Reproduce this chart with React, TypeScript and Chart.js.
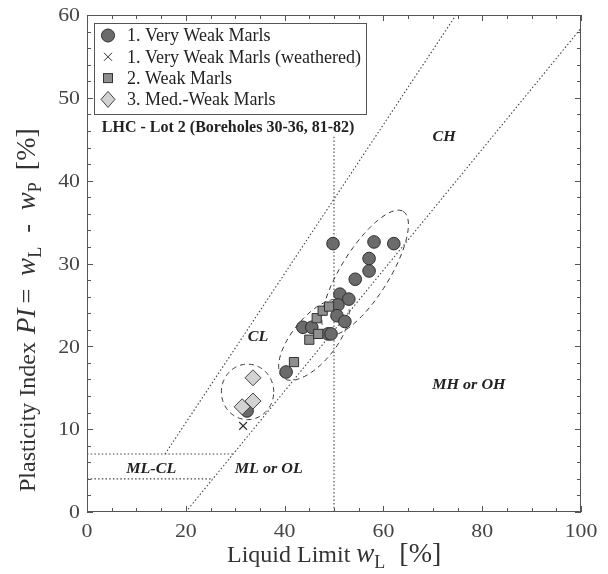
import React, { useEffect, useRef } from "react";
import { Chart, registerables } from "chart.js";
Chart.register(...registerables);

const SERIF = "'Liberation Serif', 'Times New Roman', serif";

// ---- data: liquid limit (x) and plasticity index (y) ----
const veryWeakLL = [49.8, 58.1, 62.1, 57.1, 57.1, 54.3, 51.2, 53.0, 50.8, 50.6, 52.2, 43.7, 45.5, 48.8, 49.4, 40.3, 32.4];
const veryWeakPI = [32.4, 32.6, 32.4, 30.6, 29.1, 28.1, 26.3, 25.7, 25.0, 23.7, 23.0, 22.3, 22.3, 21.5, 21.5, 16.9, 12.2];
const weatheredLL = [31.6];
const weatheredPI = [10.4];
const weakLL = [41.9, 45.0, 46.8, 46.5, 47.7, 49.0];
const weakPI = [18.1, 20.8, 21.5, 23.4, 24.3, 24.8];
const medWeakLL = [33.6, 33.6, 31.4];
const medWeakPI = [16.2, 13.4, 12.7];

const seriesLabels = [
  "1. Very Weak Marls",
  "1. Very Weak Marls (weathered)",
  "2. Weak Marls",
  "3. Med.-Weak Marls",
];

// ---- classification lines (end points, data units) ----
const aLineX = [20, 100];
const aLineY = [0, 58.4];
const uLineX = [15.8, 74.7];
const uLineY = [7, 60];
const pi7X = [0, 29.6];
const pi7Y = [7, 7];
const pi4X = [0, 25.5];
const pi4Y = [4, 4];
const ll50X = [50, 50];
const ll50Y = [0, 45.5];

// ---- zone labels ----
const zoneText = ["CH", "CL", "MH or OH", "ML-CL", "ML or OL"];
const zoneX = [72.3, 34.6, 77.3, 13.0, 36.8];
const zoneY = [45.2, 21.1, 15.3, 5.1, 5.1];

const panelTitle = "LHC - Lot 2 (Boreholes 30-36, 81-82)";
const panelTitleX = 3.0;
const panelTitleY = 46.4;

// ---- cluster ellipses: centre, semi-axis vector A, semi-axis vector B (data units) ----
const ellCX = [32.5, 45.95, 56.3];
const ellCY = [14.5, 20.8, 28.9];
const ellAX = [5.3, 6.25, 7.73];
const ellAY = [0, 4.61, 7.38];
const ellBX = [0, 3.48, 4.13];
const ellBY = [3.35, -1.68, -1.53];

const xMin = 0, xMax = 100, xStep = 20, xMinor = 5;
const yMin = 0, yMax = 60, yStep = 10, yMinor = 2;

const toPts = (xs: number[], ys: number[]) => xs.map((x, i) => ({ x, y: ys[i] }));

const lineDs = (xs: number[], ys: number[]) => ({
  type: "scatter" as const,
  data: toPts(xs, ys),
  showLine: true,
  borderColor: "#444",
  borderWidth: 1.1,
  borderDash: [1.5, 2.2],
  pointRadius: 0,
  fill: false,
});

const STRETCH = 1.18;

function stretchedText(ctx: CanvasRenderingContext2D, text: string, x: number, y: number, align: CanvasTextAlign, sx: number) {
  ctx.save();
  ctx.translate(x, y);
  ctx.scale(sx, 1);
  ctx.textAlign = align;
  ctx.fillText(text, 0, 0);
  ctx.restore();
}

type Seg = { t: string; size: number; it?: boolean; sub?: boolean; gap?: number };
// draws segments starting at x = 0 (left aligned)
function richText(ctx: CanvasRenderingContext2D, segs: Seg[]) {
  let x = 0;
  ctx.textAlign = "left";
  ctx.textBaseline = "alphabetic";
  for (const s of segs) {
    ctx.font = `${s.it ? "italic " : ""}${s.size}px ${SERIF}`;
    ctx.fillText(s.t, x, s.sub ? 6 : 0);
    x += ctx.measureText(s.t).width + (s.gap || 0);
  }
}

function drawMarker(ctx: CanvasRenderingContext2D, kind: string, x: number, y: number) {
  ctx.save();
  ctx.lineWidth = 1;
  if (kind === "circle") {
    ctx.fillStyle = "#6b6b6b";
    ctx.strokeStyle = "#2e2e2e";
    ctx.beginPath();
    ctx.arc(x, y, 6.5, 0, Math.PI * 2);
    ctx.fill();
    ctx.stroke();
  } else if (kind === "cross") {
    ctx.strokeStyle = "#333";
    ctx.beginPath();
    ctx.moveTo(x - 4, y - 4);
    ctx.lineTo(x + 4, y + 4);
    ctx.moveTo(x + 4, y - 4);
    ctx.lineTo(x - 4, y + 4);
    ctx.stroke();
  } else if (kind === "rect") {
    ctx.fillStyle = "#8e8e8e";
    ctx.strokeStyle = "#333";
    ctx.fillRect(x - 4.5, y - 4.5, 9, 9);
    ctx.strokeRect(x - 4.5, y - 4.5, 9, 9);
  } else {
    ctx.fillStyle = "#d2d2d2";
    ctx.strokeStyle = "#444";
    ctx.beginPath();
    ctx.moveTo(x, y - 8);
    ctx.lineTo(x + 7, y);
    ctx.lineTo(x, y + 8);
    ctx.lineTo(x - 7, y);
    ctx.closePath();
    ctx.fill();
    ctx.stroke();
  }
  ctx.restore();
}

const decorPlugin = {
  id: "decor",
  beforeDatasetsDraw(chart: any) {
    const { ctx, scales } = chart;
    const sx = scales.x, sy = scales.y;
    ctx.save();
    ctx.strokeStyle = "#333";
    ctx.lineWidth = 1;
    ctx.setLineDash([5, 4]);
    for (let k = 0; k < ellCX.length; k++) {
      ctx.beginPath();
      for (let i = 0; i <= 120; i++) {
        const t = (i / 120) * Math.PI * 2;
        const dx = ellCX[k] + ellAX[k] * Math.cos(t) + ellBX[k] * Math.sin(t);
        const dy = ellCY[k] + ellAY[k] * Math.cos(t) + ellBY[k] * Math.sin(t);
        const px = sx.getPixelForValue(dx), py = sy.getPixelForValue(dy);
        if (i === 0) ctx.moveTo(px, py);
        else ctx.lineTo(px, py);
      }
      ctx.stroke();
    }
    ctx.restore();

    // zone labels
    ctx.save();
    ctx.fillStyle = "#222";
    ctx.textBaseline = "middle";
    ctx.font = `italic bold 14px ${SERIF}`;
    zoneText.forEach((t, i) => {
      stretchedText(ctx, t, sx.getPixelForValue(zoneX[i]), sy.getPixelForValue(zoneY[i]), "center", 1.15);
    });
    ctx.font = `bold 16px ${SERIF}`;
    ctx.textAlign = "left";
    ctx.fillText(panelTitle, sx.getPixelForValue(panelTitleX), sy.getPixelForValue(panelTitleY));
    ctx.restore();
  },
  afterDraw(chart: any) {
    const { ctx, scales, chartArea } = chart;
    const sx = scales.x, sy = scales.y;
    const { left, right, top, bottom } = chartArea;
    ctx.save();
    // frame
    ctx.strokeStyle = "#555";
    ctx.lineWidth = 1;
    ctx.strokeRect(left + 0.5, top + 0.5, right - left - 1, bottom - top - 1);
    // inward ticks on all sides
    ctx.beginPath();
    for (let v = xMin; v <= xMax + 1e-9; v += xMinor) {
      const p = Math.round(sx.getPixelForValue(v)) + 0.5;
      const len = v % xStep === 0 ? 6 : 4;
      ctx.moveTo(p, bottom);
      ctx.lineTo(p, bottom - len);
      ctx.moveTo(p, top);
      ctx.lineTo(p, top + len);
    }
    for (let v = yMin; v <= yMax + 1e-9; v += yMinor) {
      const p = Math.round(sy.getPixelForValue(v)) + 0.5;
      const len = v % yStep === 0 ? 6 : 4;
      ctx.moveTo(left, p);
      ctx.lineTo(left + len, p);
      ctx.moveTo(right, p);
      ctx.lineTo(right - len, p);
    }
    ctx.stroke();

    // tick labels
    ctx.fillStyle = "#444";
    ctx.font = `18.5px ${SERIF}`;
    ctx.textBaseline = "alphabetic";
    sx.ticks.forEach((t: any) => {
      stretchedText(ctx, String(t.value), sx.getPixelForValue(t.value), bottom + 25, "center", STRETCH);
    });
    sy.ticks.forEach((t: any) => {
      stretchedText(ctx, String(t.value), left - 7, sy.getPixelForValue(t.value) + 6.2, "right", STRETCH);
    });

    // axis titles
    ctx.fillStyle = "#333";
    ctx.save();
    ctx.translate(227, bottom + 50);
    richText(ctx, [
      { t: "Liquid Limit ", size: 24 },
      { t: "w", size: 27, it: true },
      { t: "L", size: 18, sub: true, gap: 14 },
      { t: "[%]", size: 28 },
    ]);
    ctx.restore();

    ctx.save();
    ctx.translate(35, 492);
    ctx.rotate(-Math.PI / 2);
    richText(ctx, [
      { t: "Plasticity Index ", size: 24, gap: 2 },
      { t: "PI", size: 27, it: true, gap: 5 },
      { t: "=", size: 26, gap: 13 },
      { t: "w", size: 27, it: true },
      { t: "L", size: 18, sub: true, gap: 14 },
      { t: "-", size: 26, gap: 14 },
      { t: "w", size: 27, it: true },
      { t: "P", size: 18, sub: true, gap: 12 },
      { t: "[%]", size: 28 },
    ]);
    ctx.restore();

    // legend
    const lx = left + 7, ly = top + 8, lw = 272, lh = 91;
    ctx.fillStyle = "#fff";
    ctx.fillRect(lx, ly, lw, lh);
    ctx.strokeStyle = "#555";
    ctx.strokeRect(lx + 0.5, ly + 0.5, lw, lh);
    const kinds = ["circle", "cross", "rect", "rectRot"];
    ctx.font = `18px ${SERIF}`;
    ctx.fillStyle = "#222";
    ctx.textAlign = "left";
    ctx.textBaseline = "middle";
    seriesLabels.forEach((lab, i) => {
      const yy = ly + 12.5 + i * 21.3;
      drawMarker(ctx, kinds[i], lx + 14, yy);
      ctx.fillText(lab, lx + 33, yy + 1);
    });
    ctx.restore();
  },
};

export default function App() {
  const ref = useRef<HTMLCanvasElement>(null);
  useEffect(() => {
    if (!ref.current) return;
    const chart = new Chart(ref.current, {
      type: "scatter",
      data: {
        datasets: [
          {
            label: seriesLabels[3],
            data: toPts(medWeakLL, medWeakPI),
            pointStyle: "rectRot",
            pointRadius: 8,
            backgroundColor: "#d2d2d2",
            borderColor: "#444",
            borderWidth: 1,
          },
          {
            label: seriesLabels[2],
            data: toPts(weakLL, weakPI),
            pointStyle: "rect",
            pointRadius: 6.5,
            backgroundColor: "#8e8e8e",
            borderColor: "#333",
            borderWidth: 1,
          },
          {
            label: seriesLabels[1],
            data: toPts(weatheredLL, weatheredPI),
            pointStyle: "crossRot",
            pointRadius: 5.5,
            borderColor: "#333",
            borderWidth: 1.2,
          },
          {
            label: seriesLabels[0],
            data: toPts(veryWeakLL, veryWeakPI),
            pointStyle: "circle",
            pointRadius: 6.3,
            backgroundColor: "#6b6b6b",
            borderColor: "#2e2e2e",
            borderWidth: 1,
          },
          lineDs(aLineX, aLineY),
          lineDs(uLineX, uLineY),
          lineDs(pi7X, pi7Y),
          lineDs(pi4X, pi4Y),
          lineDs(ll50X, ll50Y),
        ] as any,
      },
      options: {
        animation: false,
        responsive: false,
        events: [],
        layout: { padding: { top: 15, right: 27, left: 0, bottom: 0 } },
        plugins: { legend: { display: false }, tooltip: { enabled: false }, title: { display: false } },
        scales: {
          x: {
            type: "linear",
            min: xMin,
            max: xMax,
            ticks: { stepSize: xStep, display: false },
            grid: { display: false, drawTicks: false },
            border: { display: false },
            afterFit: (s: any) => {
              s.height = 62;
            },
          },
          y: {
            type: "linear",
            min: yMin,
            max: yMax,
            ticks: { stepSize: yStep, display: false },
            grid: { display: false, drawTicks: false },
            border: { display: false },
            afterFit: (s: any) => {
              s.width = 87;
            },
          },
        },
      } as any,
      plugins: [decorPlugin],
    });
    return () => chart.destroy();
  }, []);
  return (
    <div style={{ position: "absolute", left: 0, top: 0, width: 608, height: 574, background: "#fff" }}>
      <canvas ref={ref} width={608} height={574} style={{ display: "block", width: 608, height: 574 }} />
    </div>
  );
}
